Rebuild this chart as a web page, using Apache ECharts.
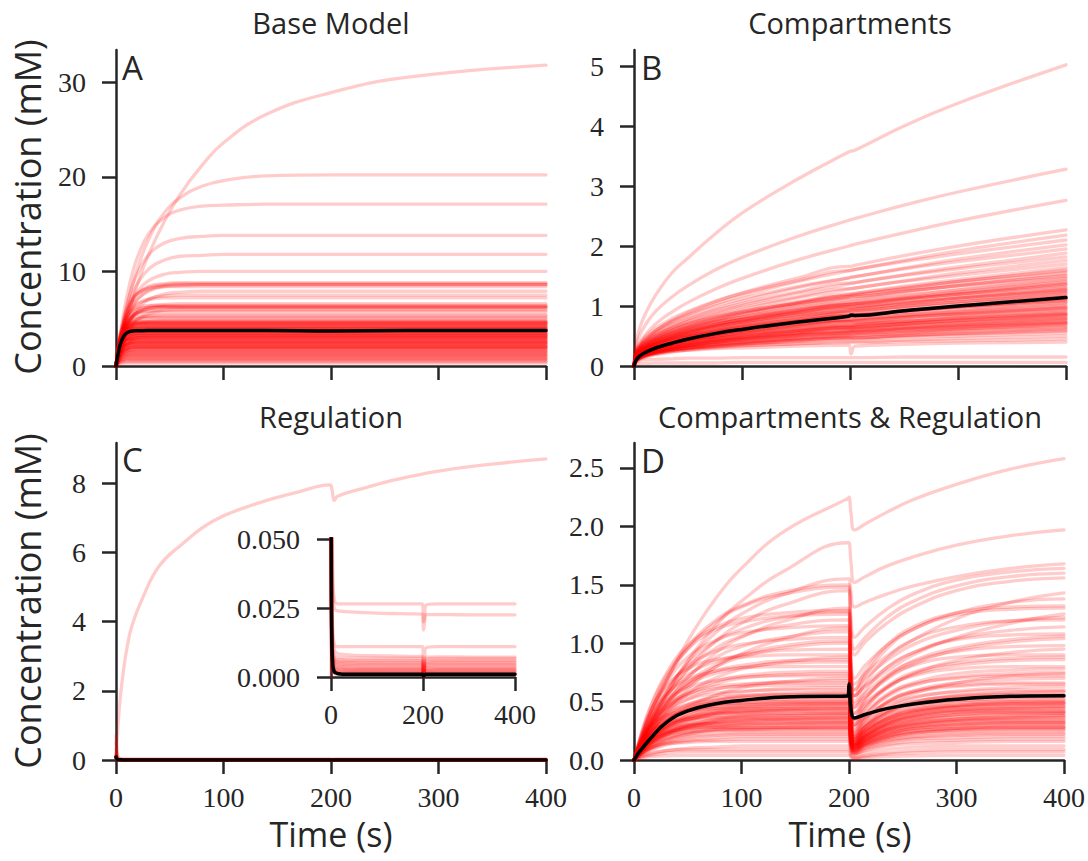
<!DOCTYPE html>
<html>
<head>
<meta charset="utf-8">
<title>Concentration time courses</title>
<script src="https://cdn.jsdelivr.net/npm/echarts@6.0.0/dist/echarts.min.js"></script>
<style>
  html, body { margin: 0; padding: 0; background: #ffffff; }
  #chart { width: 1088px; height: 861px; }
</style>
</head>
<body>
<div id="chart"></div>
<script>
// ---------- Panel A: base model (time in s, concentration in mM) ----------
const timeA = [0, 2, 4, 7, 10, 15, 20, 30, 45, 60, 80, 100, 140, 200, 270, 400];
const runsA = [
  [0,1.1,2.1,3.5,4.9,6.9,8.7,11.7,15.3,18.2,21.2,23.6,26.6,28.9,30.5,31.8],
  [0,1.4,2.7,4.5,6.1,8.4,10.3,13.3,16.2,17.8,19.0,19.6,20.1,20.2,20.2,20.2],
  [0,1.8,3.4,5.5,7.3,9.7,11.5,13.9,15.7,16.5,16.9,17.0,17.1,17.1,17.1,17.1],
  [0,1.6,3.1,4.9,6.4,8.4,9.8,11.7,13.0,13.5,13.7,13.8,13.8,13.8,13.8,13.8],
  [0,1.5,2.8,4.4,5.7,7.5,8.7,10.2,11.2,11.6,11.7,11.8,11.8,11.8,11.8,11.8],
  [0,1.4,2.7,4.2,5.4,6.9,7.9,9.0,9.7,9.9,10,10,10,10,10,10],
  [0,1.6,2.9,4.4,5.6,6.8,7.6,8.4,8.7,8.8,8.8,8.8,8.8,8.8,8.8,8.8],
  [0,1.3,2.4,3.8,4.9,6.1,7.0,7.9,8.4,8.5,8.6,8.6,8.6,8.6,8.6,8.6],
  [0,1.9,3.3,4.9,6.0,7.1,7.7,8.2,8.4,8.4,8.4,8.4,8.4,8.4,8.4,8.4],
  [0,1.1,2.0,3.1,4.0,5.2,6.0,7.0,7.6,7.8,7.9,7.9,7.9,7.9,7.9,7.9],
  [0,1.4,2.5,3.8,4.7,5.8,6.5,7.1,7.4,7.5,7.5,7.5,7.5,7.5,7.5,7.5],
  [0,1.6,2.8,4.2,5.1,6.1,6.6,7.0,7.2,7.2,7.2,7.2,7.2,7.2,7.2,7.2],
  [0,1.2,2.2,3.3,4.2,5.1,5.7,6.3,6.5,6.6,6.6,6.6,6.6,6.6,6.6,6.6],
  [0,1.8,3.1,4.4,5.2,5.9,6.2,6.4,6.4,6.4,6.4,6.4,6.4,6.4,6.4,6.4],
  [0,1.4,2.4,3.6,4.4,5.3,5.7,6.1,6.2,6.2,6.2,6.2,6.2,6.2,6.2,6.2],
  [0,0.9,1.7,2.7,3.4,4.3,4.9,5.5,5.9,6.0,6.0,6.0,6.0,6.0,6.0,6.0],
  [0,1.6,2.8,3.9,4.6,5.2,5.5,5.7,5.7,5.7,5.7,5.7,5.7,5.7,5.7,5.7],
  [0,1.2,2.1,3.1,3.9,4.6,5.0,5.3,5.4,5.4,5.4,5.4,5.4,5.4,5.4,5.4],
  [0,1.7,2.8,3.8,4.4,4.8,5.0,5.1,5.1,5.1,5.1,5.1,5.1,5.1,5.1,5.1],
  [0,1.2,2.1,3.0,3.6,4.2,4.5,4.7,4.8,4.8,4.8,4.8,4.8,4.8,4.8,4.8],
  [0,1.5,2.5,3.5,4.0,4.4,4.5,4.6,4.6,4.6,4.6,4.6,4.6,4.6,4.6,4.6],
  [0,1.2,2.1,3.0,3.6,4.0,4.2,4.4,4.4,4.4,4.4,4.4,4.4,4.4,4.4,4.4],
  [0,1.7,2.7,3.6,3.9,4.2,4.3,4.3,4.3,4.3,4.3,4.3,4.3,4.3,4.3,4.3],
  [0,1.4,2.3,3.1,3.5,3.9,4.0,4.1,4.1,4.1,4.1,4.1,4.1,4.1,4.1,4.1],
  [0,1.9,2.9,3.6,3.9,4.0,4.0,4.0,4.0,4.0,4.0,4.0,4.0,4.0,4.0,4.0],
  [0,1.1,1.9,2.7,3.2,3.6,3.8,3.9,3.9,3.9,3.9,3.9,3.9,3.9,3.9,3.9],
  [0,1.4,2.3,3.0,3.3,3.5,3.6,3.6,3.6,3.6,3.6,3.6,3.6,3.6,3.6,3.6],
  [0,1.2,1.9,2.6,3.0,3.3,3.4,3.5,3.5,3.5,3.5,3.5,3.5,3.5,3.5,3.5],
  [0,1.6,2.4,3.0,3.2,3.3,3.3,3.3,3.3,3.3,3.3,3.3,3.3,3.3,3.3,3.3],
  [0,0.9,1.5,2.1,2.5,2.8,3.0,3.1,3.1,3.1,3.1,3.1,3.1,3.1,3.1,3.1],
  [0,1.2,1.9,2.5,2.8,2.9,3.0,3.0,3.0,3.0,3.0,3.0,3.0,3.0,3.0,3.0],
  [0,1.4,2.1,2.5,2.7,2.8,2.8,2.8,2.8,2.8,2.8,2.8,2.8,2.8,2.8,2.8],
  [0,0.9,1.4,2.0,2.2,2.5,2.6,2.6,2.6,2.6,2.6,2.6,2.6,2.6,2.6,2.6],
  [0,1.2,1.8,2.2,2.3,2.4,2.4,2.4,2.4,2.4,2.4,2.4,2.4,2.4,2.4,2.4],
  [0,0.9,1.4,1.8,2.0,2.2,2.2,2.2,2.2,2.2,2.2,2.2,2.2,2.2,2.2,2.2],
  [0,1.0,1.5,1.8,1.9,2.0,2.0,2.0,2.0,2.0,2.0,2.0,2.0,2.0,2.0,2.0],
  [0,0.6,1.0,1.4,1.6,1.7,1.8,1.8,1.8,1.8,1.8,1.8,1.8,1.8,1.8,1.8],
  [0,0.7,1.1,1.4,1.5,1.5,1.5,1.5,1.5,1.5,1.5,1.5,1.5,1.5,1.5,1.5],
  [0,0.5,0.8,1.1,1.2,1.3,1.3,1.3,1.3,1.3,1.3,1.3,1.3,1.3,1.3,1.3],
  [0,0.5,0.7,0.9,1.0,1.0,1.0,1.0,1.0,1.0,1.0,1.0,1.0,1.0,1.0,1.0],
  [0,0.3,0.5,0.7,0.8,0.8,0.8,0.8,0.8,0.8,0.8,0.8,0.8,0.8,0.8,0.8],
  [0,0.3,0.4,0.5,0.55,0.55,0.55,0.55,0.55,0.55,0.55,0.55,0.55,0.55,0.55,0.55],
  [0,0.15,0.22,0.27,0.3,0.3,0.3,0.3,0.3,0.3,0.3,0.3,0.3,0.3,0.3,0.3],
  [0,1.5,2.4,3.1,3.5,3.7,3.8,3.8,3.8,3.8,3.8,3.8,3.8,3.8,3.8,3.8],
  [0,1.8,2.8,3.7,4.1,4.4,4.5,4.5,4.5,4.5,4.5,4.5,4.5,4.5,4.5,4.5],
  [0,1.3,2.0,2.6,2.9,3.1,3.2,3.2,3.2,3.2,3.2,3.2,3.2,3.2,3.2,3.2],
  [0,1.0,1.6,2.1,2.3,2.5,2.5,2.5,2.5,2.5,2.5,2.5,2.5,2.5,2.5,2.5],
  [0,1.2,2.0,2.9,3.4,3.9,4.0,4.2,4.2,4.2,4.2,4.2,4.2,4.2,4.2,4.2],
  [0,1.5,2.6,3.7,4.5,5.2,5.6,5.8,5.9,5.9,5.9,5.9,5.9,5.9,5.9,5.9],
  [0,1.3,2.3,3.5,4.3,5.2,5.7,6.1,6.3,6.3,6.3,6.3,6.3,6.3,6.3,6.3],
  [0,1.6,2.6,3.5,4.1,4.5,4.6,4.7,4.7,4.7,4.7,4.7,4.7,4.7,4.7,4.7],
  [0,1.7,2.5,3.1,3.3,3.4,3.4,3.4,3.4,3.4,3.4,3.4,3.4,3.4,3.4,3.4],
  [0,1.0,1.6,2.2,2.5,2.8,2.9,2.9,2.9,2.9,2.9,2.9,2.9,2.9,2.9,2.9],
  [0,0.8,1.3,1.7,1.9,2.1,2.1,2.1,2.1,2.1,2.1,2.1,2.1,2.1,2.1,2.1],
  [0,0.6,0.9,1.1,1.2,1.2,1.2,1.2,1.2,1.2,1.2,1.2,1.2,1.2,1.2,1.2],
  [0,0.35,0.5,0.6,0.65,0.65,0.65,0.65,0.65,0.65,0.65,0.65,0.65,0.65,0.65,0.65],
  [0,2.2,3.4,4.2,4.4,4.6,4.6,4.6,4.6,4.6,4.6,4.6,4.6,4.6,4.6,4.6],
  [0,1.7,2.8,3.6,4.0,4.3,4.4,4.4,4.4,4.4,4.4,4.4,4.4,4.4,4.4,4.4],
  [0,2.0,3.1,3.8,4.0,4.2,4.2,4.2,4.2,4.2,4.2,4.2,4.2,4.2,4.2,4.2],
  [0,1.3,2.2,3.0,3.5,3.8,3.9,4.0,4.0,4.0,4.0,4.0,4.0,4.0,4.0,4.0],
  [0,1.5,2.5,3.2,3.6,3.8,3.9,3.9,3.9,3.9,3.9,3.9,3.9,3.9,3.9,3.9],
  [0,1.8,2.7,3.3,3.6,3.7,3.7,3.7,3.7,3.7,3.7,3.7,3.7,3.7,3.7,3.7],
  [0,1.0,1.8,2.5,2.9,3.3,3.5,3.6,3.6,3.6,3.6,3.6,3.6,3.6,3.6,3.6],
  [0,1.7,2.6,3.2,3.4,3.5,3.5,3.5,3.5,3.5,3.5,3.5,3.5,3.5,3.5,3.5],
  [0,1.1,1.8,2.5,2.9,3.1,3.2,3.3,3.3,3.3,3.3,3.3,3.3,3.3,3.3,3.3],
  [0,1.6,2.4,2.9,3.1,3.2,3.2,3.2,3.2,3.2,3.2,3.2,3.2,3.2,3.2,3.2],
  [0,1.2,1.9,2.5,2.8,2.9,3.0,3.0,3.0,3.0,3.0,3.0,3.0,3.0,3.0,3.0],
  [0,1.4,2.1,2.6,2.8,2.9,2.9,2.9,2.9,2.9,2.9,2.9,2.9,2.9,2.9,2.9],
  [0,0.9,1.5,2.0,2.3,2.6,2.7,2.7,2.7,2.7,2.7,2.7,2.7,2.7,2.7,2.7],
  [0,1.3,1.9,2.3,2.5,2.6,2.6,2.6,2.6,2.6,2.6,2.6,2.6,2.6,2.6,2.6],
  [0,0.9,1.5,2.0,2.2,2.4,2.4,2.4,2.4,2.4,2.4,2.4,2.4,2.4,2.4,2.4],
  [0,1.1,1.7,2.1,2.2,2.3,2.3,2.3,2.3,2.3,2.3,2.3,2.3,2.3,2.3,2.3],
  [0,0.7,1.2,1.6,1.8,2.0,2.1,2.1,2.1,2.1,2.1,2.1,2.1,2.1,2.1,2.1],
  [0,0.8,1.3,1.7,1.8,2.0,2.0,2.0,2.0,2.0,2.0,2.0,2.0,2.0,2.0,2.0],
  [0,0.9,1.4,1.7,1.8,1.9,1.9,1.9,1.9,1.9,1.9,1.9,1.9,1.9,1.9,1.9],
  [0,0.7,1.1,1.4,1.6,1.7,1.7,1.7,1.7,1.7,1.7,1.7,1.7,1.7,1.7,1.7],
  [0,0.8,1.2,1.4,1.5,1.6,1.6,1.6,1.6,1.6,1.6,1.6,1.6,1.6,1.6,1.6],
  [0,0.6,0.9,1.2,1.3,1.4,1.4,1.4,1.4,1.4,1.4,1.4,1.4,1.4,1.4,1.4],
  [0,0.5,0.8,1.0,1.1,1.1,1.1,1.1,1.1,1.1,1.1,1.1,1.1,1.1,1.1,1.1],
  [0,0.35,0.6,0.75,0.85,0.9,0.9,0.9,0.9,0.9,0.9,0.9,0.9,0.9,0.9,0.9],
  [0,0.2,0.33,0.4,0.44,0.45,0.45,0.45,0.45,0.45,0.45,0.45,0.45,0.45,0.45,0.45],
  [0,1.4,2.4,3.4,4.1,4.6,4.8,5.0,5.0,5.0,5.0,5.0,5.0,5.0,5.0,5.0],
  [0,1.7,2.9,4.0,4.6,5.0,5.2,5.3,5.3,5.3,5.3,5.3,5.3,5.3,5.3,5.3],
  [0,1.6,2.7,4.0,4.8,5.6,6.0,6.2,6.3,6.3,6.3,6.3,6.3,6.3,6.3,6.3],
  [0,1.3,2.2,3.4,4.2,5.1,5.6,6.0,6.2,6.2,6.2,6.2,6.2,6.2,6.2,6.2],
  [0,1.4,2.6,4.0,5.1,6.3,7.1,8.0,8.5,8.6,8.6,8.6,8.6,8.6,8.6,8.6],
  [0,1.7,3.1,4.5,5.6,6.8,7.6,8.3,8.6,8.7,8.7,8.7,8.7,8.7,8.7,8.7],
  [0,2.0,3.0,3.7,4.0,4.1,4.1,4.1,4.1,4.1,4.1,4.1,4.1,4.1,4.1,4.1],
  [0,1.4,2.4,3.3,3.8,4.2,4.4,4.5,4.5,4.5,4.5,4.5,4.5,4.5,4.5,4.5],
  [0,1.8,2.8,3.5,3.8,3.9,3.9,3.9,3.9,3.9,3.9,3.9,3.9,3.9,3.9,3.9],
  [0,1.3,2.1,2.9,3.3,3.6,3.7,3.7,3.7,3.7,3.7,3.7,3.7,3.7,3.7,3.7],
  [0,1.5,2.3,2.9,3.2,3.4,3.4,3.4,3.4,3.4,3.4,3.4,3.4,3.4,3.4,3.4],
  [0,1.0,1.7,2.4,2.8,3.1,3.2,3.2,3.2,3.2,3.2,3.2,3.2,3.2,3.2,3.2],
  [0,1.3,2.0,2.6,2.8,3.0,3.0,3.0,3.0,3.0,3.0,3.0,3.0,3.0,3.0,3.0],
  [0,1.2,1.9,2.4,2.6,2.7,2.7,2.7,2.7,2.7,2.7,2.7,2.7,2.7,2.7,2.7],
  [0,0.9,1.5,2.0,2.3,2.5,2.5,2.5,2.5,2.5,2.5,2.5,2.5,2.5,2.5,2.5],
  [0,1.0,1.6,2.0,2.2,2.3,2.3,2.3,2.3,2.3,2.3,2.3,2.3,2.3,2.3,2.3],
  [0,0.8,1.3,1.7,1.9,2.0,2.0,2.0,2.0,2.0,2.0,2.0,2.0,2.0,2.0,2.0],
  [0,0.8,1.2,1.5,1.7,1.8,1.8,1.8,1.8,1.8,1.8,1.8,1.8,1.8,1.8,1.8],
  [0,0.7,1.0,1.3,1.4,1.5,1.5,1.5,1.5,1.5,1.5,1.5,1.5,1.5,1.5,1.5],
  [0,0.5,0.8,1.0,1.1,1.15,1.15,1.15,1.15,1.15,1.15,1.15,1.15,1.15,1.15,1.15],
  [0,0.4,0.6,0.7,0.75,0.75,0.75,0.75,0.75,0.75,0.75,0.75,0.75,0.75,0.75,0.75],
  [0,1.9,3.0,3.9,4.3,4.6,4.7,4.7,4.7,4.7,4.7,4.7,4.7,4.7,4.7,4.7]
];
const meanA = [0,1.3,2.3,3.1,3.5,3.7,3.72,3.75,3.75,3.75,3.75,3.75,3.75,3.7,3.75,3.75];

// ---------- Panel B: compartments ----------
const timeB = [0, 2, 5, 10, 20, 35, 50, 75, 100, 150, 199, 201, 205, 250, 300, 400];
const runsB = [
  [0,0.4,0.62,0.85,1.18,1.55,1.8,2.2,2.55,3.1,3.57,3.58,3.6,4.0,4.38,5.02],
  [0,.33,.5,.67,.91,1.15,1.34,1.6,1.81,2.15,2.43,2.44,2.46,2.68,2.9,3.28],
  [0,.24,.37,.51,.7,.9,1.06,1.28,1.46,1.76,2.0,2.01,2.03,2.22,2.42,2.76],
  [0,.21,.32,.43,.59,.76,.89,1.07,1.22,1.46,1.66,1.66,1.68,1.84,2.0,2.27],
  [0,.2,.3,.41,.57,.73,.85,1.03,1.17,1.4,1.59,1.6,1.61,1.76,1.92,2.18],
  [0,.25,.36,.48,.63,.79,.91,1.08,1.21,1.42,1.59,1.59,1.61,1.74,1.87,2.1],
  [0,.19,.28,.38,.53,.67,.79,.95,1.08,1.3,1.47,1.48,1.49,1.63,1.78,2.02],
  [0,.23,.34,.45,.59,.74,.85,1.0,1.12,1.32,1.47,1.48,1.49,1.62,1.74,1.95],
  [0,.17,.26,.36,.49,.63,.74,.89,1.01,1.21,1.37,1.38,1.39,1.52,1.65,1.88],
  [0,.22,.31,.42,.55,.69,.79,.93,1.04,1.23,1.38,1.38,1.39,1.51,1.62,1.82],
  [0,.16,.24,.33,.46,.59,.69,.83,.94,1.13,1.28,1.29,1.3,1.42,1.55,1.76],
  [0,.2,.29,.39,.51,.64,.74,.87,.98,1.15,1.29,1.29,1.3,1.41,1.51,1.7],
  [0,.15,.23,.31,.43,.55,.64,.77,.88,1.05,1.2,1.2,1.21,1.33,1.44,1.64],
  [0,.19,.27,.36,.48,.6,.69,.81,.91,1.07,1.19,1.2,1.21,1.31,1.41,1.58],
  [0,.14,.21,.29,.4,.51,.6,.72,.81,.98,1.11,1.11,1.12,1.23,1.34,1.52],
  [0,.23,.32,.4,.51,.63,.71,.82,.91,1.04,1.15,1.16,1.16,1.25,1.33,1.47],
  [0,.17,.25,.33,.43,.54,.62,.73,.82,.96,1.07,1.08,1.09,1.18,1.27,1.42],
  [0,.13,.19,.26,.36,.46,.54,.65,.73,.88,1.0,1.0,1.01,1.11,1.2,1.37],
  [0,.21,.29,.36,.46,.56,.64,.74,.81,.94,1.03,1.04,1.04,1.12,1.19,1.32],
  [0,.15,.22,.29,.38,.48,.55,.65,.73,.86,.96,.96,.97,1.05,1.13,1.27],
  [0,.11,.17,.23,.32,.41,.48,.57,.65,.78,.89,.89,.9,.99,1.07,1.22],
  [0,.19,.25,.32,.41,.5,.57,.66,.73,.84,.92,.93,.93,1.0,1.07,1.18],
  [0,.13,.19,.25,.33,.41,.48,.56,.63,.74,.83,.83,.84,.91,.98,1.1],
  [0,.1,.15,.2,.27,.35,.41,.49,.56,.68,.77,.77,.78,.85,.92,1.05],
  [0,.16,.22,.28,.35,.43,.48,.56,.62,.71,.78,.79,.79,.85,.9,1.0],
  [0,.12,.17,.22,.29,.36,.42,.49,.55,.65,.73,.73,.73,.8,.86,.96],
  [0,.08,.13,.17,.24,.31,.36,.43,.49,.59,.67,.67,.68,.74,.81,.92],
  [0,.14,.19,.24,.31,.37,.43,.49,.54,.62,.69,.69,.7,.75,.8,.88],
  [0,.1,.15,.19,.25,.32,.37,.43,.48,.57,.64,.64,.64,.7,.75,.84],
  [0,.13,.17,.22,.28,.34,.39,.45,.49,.57,.63,.63,.63,.68,.72,.8],
  [0,.09,.13,.17,.23,.29,.33,.39,.44,.51,.57,.58,.58,.63,.68,.76],
  [0,.11,.16,.2,.25,.31,.35,.4,.44,.51,.56,.57,.57,.61,.65,.72],
  [0,.08,.12,.16,.21,.26,.3,.35,.39,.46,.51,.52,.52,.56,.61,.68],
  [0,.1,.14,.18,.22,.27,.31,.36,.39,.45,.5,.5,.51,.54,.58,.64],
  [0,.09,.13,.17,.21,.26,.29,.33,.37,.43,.47,.47,.47,.51,.54,.6],
  [0,.11,.15,.18,.22,.27,.29,.33,.36,.41,.45,.45,.45,.48,.5,.55],
  [0,.1,.13,.17,.2,.24,.27,.3,.33,.37,.41,.41,.41,.43,.46,.5],
  [0,.16,.19,.22,.25,.28,.3,.32,.34,.37,.39,.39,.39,.41,.42,.45],
  [0,.14,.17,.19,.22,.25,.26,.29,.3,.33,.35,.2,.33,.36,.38,.4],
  [0,.07,.09,.1,.11,.12,.13,.13,.14,.14,.14,.14,.14,.15,.15,.15],
  [0,.03,.04,.04,.05,.05,.05,.05,.06,.06,.06,.06,.06,.06,.06,.06],
  [0,.15,.22,.3,.42,.53,.63,.75,.86,1.03,1.17,1.17,1.18,1.29,1.41,1.6],
  [0,.16,.23,.31,.41,.51,.59,.69,.77,.91,1.02,1.02,1.03,1.12,1.2,1.35],
  [0,.11,.16,.22,.3,.38,.45,.54,.62,.74,.84,.84,.85,.93,1.01,1.15],
  [0,.12,.17,.22,.3,.37,.43,.5,.56,.66,.74,.74,.75,.81,.87,.98],
  [0,.08,.12,.16,.22,.29,.34,.41,.46,.55,.63,.63,.64,.7,.76,.86],
  [0,.08,.12,.16,.21,.26,.3,.36,.4,.47,.53,.53,.54,.58,.62,.7],
  [0,.12,.18,.24,.33,.43,.5,.6,.69,.82,.93,.94,.95,1.04,1.13,1.28],
  [0,.17,.23,.3,.38,.46,.52,.6,.67,.77,.85,.85,.85,.92,.98,1.08],
  [0,.19,.27,.35,.47,.58,.67,.79,.89,1.05,1.17,1.18,1.19,1.28,1.38,1.55],
  [0,.13,.2,.28,.38,.48,.57,.68,.78,.93,1.06,1.06,1.07,1.17,1.27,1.45],
  [0,.16,.22,.3,.39,.49,.57,.67,.75,.88,.98,.99,.99,1.08,1.16,1.3],
  [0,.2,.27,.34,.44,.53,.6,.7,.77,.89,.98,.98,.99,1.06,1.13,1.25],
  [0,.14,.21,.27,.36,.45,.52,.61,.69,.81,.91,.91,.92,.99,1.07,1.2],
  [0,.1,.16,.21,.29,.37,.44,.53,.6,.72,.82,.82,.83,.91,.98,1.12],
  [0,.17,.23,.29,.37,.45,.51,.59,.65,.75,.83,.83,.84,.9,.96,1.06],
  [0,.12,.18,.23,.31,.38,.44,.52,.59,.69,.77,.77,.78,.85,.91,1.02],
  [0,.15,.2,.26,.33,.4,.45,.52,.58,.67,.74,.74,.74,.8,.85,.94],
  [0,.11,.16,.21,.27,.34,.39,.46,.52,.61,.68,.68,.69,.75,.8,.9],
  [0,.13,.18,.23,.29,.35,.4,.46,.51,.58,.64,.64,.65,.7,.74,.82],
  [0,.09,.13,.18,.24,.29,.34,.4,.45,.53,.59,.59,.6,.65,.69,.78],
  [0,.12,.16,.2,.26,.32,.36,.41,.46,.52,.58,.58,.59,.63,.67,.74],
  [0,.1,.14,.18,.23,.28,.32,.37,.41,.47,.52,.52,.52,.56,.6,.66],
  [0,.07,.11,.14,.19,.23,.27,.32,.36,.42,.47,.47,.47,.51,.55,.62],
  [0,.12,.16,.19,.24,.28,.31,.35,.38,.43,.47,.47,.47,.5,.53,.58],
  [0,.13,.19,.27,.36,.47,.55,.66,.75,.9,1.02,1.03,1.04,1.13,1.23,1.4],
  [0,.18,.26,.34,.45,.57,.65,.77,.86,1.01,1.13,1.14,1.15,1.24,1.34,1.5],
  [0,.14,.19,.24,.3,.37,.42,.48,.54,.62,.68,.68,.69,.74,.79,.87],
  [0,.14,.2,.27,.35,.44,.5,.59,.67,.78,.88,.88,.89,.96,1.03,1.16],
  [0,.13,.18,.24,.31,.38,.44,.52,.58,.67,.75,.75,.76,.82,.87,.97],
  [0,.11,.15,.2,.26,.31,.35,.41,.45,.52,.57,.57,.57,.62,.66,.73],
  [0,.14,.2,.26,.34,.42,.49,.57,.64,.75,.84,.84,.85,.92,.99,1.11],
  [0,.12,.17,.22,.28,.35,.4,.46,.51,.59,.65,.65,.66,.71,.76,.85],
  [0,.1,.14,.18,.24,.3,.34,.39,.43,.5,.55,.55,.56,.6,.64,.71],
  [0,.15,.21,.28,.37,.46,.53,.63,.71,.84,.94,.94,.95,1.03,1.11,1.24],
  [0,.12,.16,.21,.27,.33,.37,.43,.48,.55,.61,.61,.62,.66,.71,.79],
  [0,.16,.23,.3,.4,.5,.58,.69,.78,.92,1.03,1.03,1.04,1.13,1.22,1.37]
];
const meanB = [0,.1,.16,.22,.3,.38,.45,.54,.61,.73,.83,.85,.84,.92,1.0,1.14];

// ---------- Panel C: regulation (main axes and inset share the runs) ----------
const timeC = [0, 1, 2, 4, 7, 10, 15, 25, 40, 60, 90, 130, 170, 199, 201, 203, 206, 230, 260, 300, 350, 400];
const runsC = [
  [0,0.6,1.07,1.8,2.6,3.2,3.9,4.7,5.6,6.2,6.9,7.4,7.75,7.95,7.8,7.5,7.62,7.85,8.1,8.35,8.55,8.7],
  [0.7,0.25,0.09,0.035,0.028,0.027,0.0265,0.0265,0.0265,0.0265,0.0265,0.0265,0.0265,0.0265,0.017,0.019,0.026,0.0265,0.0265,0.0265,0.0265,0.0265],
  [0.5,0.18,0.07,0.03,0.025,0.0242,0.024,0.0238,0.0236,0.0234,0.0232,0.023,0.0229,0.0228,0.02,0.021,0.0226,0.0226,0.0226,0.0225,0.0225,0.0225],
  [0.3,0.1,0.04,0.016,0.012,0.0112,0.011,0.011,0.011,0.011,0.011,0.011,0.011,0.011,0.004,0.007,0.0105,0.011,0.011,0.011,0.011,0.011],
  [0.2,0.07,0.03,0.013,0.01,0.009,0.0085,0.0082,0.008,0.0078,0.0077,0.0076,0.0075,0.0075,0.002,0.005,0.0072,0.0073,0.0073,0.0072,0.0072,0.0072],
  [0.15,0.05,0.02,0.01,0.008,0.0075,0.0072,0.007,0.0069,0.0068,0.0068,0.0068,0.0068,0.0068,0.002,0.004,0.0065,0.0067,0.0067,0.0067,0.0067,0.0067],
  [0.12,0.04,0.018,0.009,0.007,0.0065,0.0063,0.0062,0.0061,0.006,0.006,0.006,0.006,0.006,0.001,0.004,0.0058,0.006,0.006,0.006,0.006,0.006],
  [0.1,0.035,0.015,0.008,0.0065,0.006,0.0058,0.0057,0.0056,0.0055,0.0055,0.0055,0.0055,0.0055,0.001,0.003,0.0052,0.0055,0.0055,0.0055,0.0055,0.0055],
  [0.09,0.03,0.013,0.0075,0.006,0.0055,0.0053,0.0052,0.0051,0.005,0.005,0.005,0.005,0.005,0.001,0.003,0.0048,0.005,0.005,0.005,0.005,0.005],
  [0.085,0.028,0.012,0.007,0.0055,0.005,0.0048,0.0047,0.0046,0.0045,0.0045,0.0045,0.0045,0.0045,0.001,0.0025,0.0043,0.0045,0.0045,0.0045,0.0045,0.0045],
  [0.08,0.026,0.011,0.0065,0.005,0.0045,0.0043,0.0042,0.0041,0.004,0.004,0.004,0.004,0.004,0.0008,0.002,0.0038,0.004,0.004,0.004,0.004,0.004],
  [0.075,0.024,0.01,0.006,0.0045,0.004,0.0038,0.0037,0.0036,0.0035,0.0035,0.0035,0.0035,0.0035,0.0007,0.002,0.0033,0.0035,0.0035,0.0035,0.0035,0.0035],
  [0.07,0.022,0.009,0.005,0.004,0.0035,0.0033,0.0032,0.0031,0.003,0.003,0.003,0.003,0.003,0.0006,0.0018,0.0028,0.003,0.003,0.003,0.003,0.003],
  [0.068,0.02,0.008,0.0045,0.0035,0.0031,0.0029,0.0028,0.0027,0.0027,0.0027,0.0027,0.0027,0.0027,0.0005,0.0015,0.0025,0.0027,0.0027,0.0027,0.0027,0.0027],
  [0.065,0.019,0.0075,0.004,0.0032,0.0028,0.0026,0.0025,0.0024,0.0024,0.0024,0.0024,0.0024,0.0024,0.0005,0.0014,0.0022,0.0024,0.0024,0.0024,0.0024,0.0024],
  [0.062,0.018,0.007,0.0035,0.0027,0.0023,0.0021,0.002,0.002,0.002,0.002,0.002,0.002,0.002,0.0004,0.0012,0.0019,0.002,0.002,0.002,0.002,0.002],
  [0.06,0.017,0.0065,0.003,0.0023,0.002,0.0018,0.0017,0.0017,0.0017,0.0017,0.0017,0.0017,0.0017,0.0004,0.001,0.0016,0.0017,0.0017,0.0017,0.0017,0.0017],
  [0.058,0.016,0.006,0.0027,0.002,0.0017,0.0015,0.0014,0.0014,0.0014,0.0014,0.0014,0.0014,0.0014,0.0003,0.0009,0.0013,0.0014,0.0014,0.0014,0.0014,0.0014],
  [0.056,0.015,0.0055,0.0024,0.0017,0.0014,0.0013,0.0012,0.0012,0.0012,0.0012,0.0012,0.0012,0.0012,0.0003,0.0008,0.0011,0.0012,0.0012,0.0012,0.0012,0.0012],
  [0.055,0.014,0.005,0.002,0.0014,0.0011,0.001,0.0009,0.0009,0.0009,0.0009,0.0009,0.0009,0.0009,0.0002,0.0006,0.0009,0.0009,0.0009,0.0009,0.0009,0.0009]
];
const meanC = [0.09,0.03,0.012,0.004,0.002,0.0015,0.0012,0.001,0.001,0.001,0.001,0.001,0.001,0.001,0.0004,0.0007,0.001,0.001,0.001,0.001,0.001,0.001];

// ---------- Panel D: compartments & regulation ----------
const timeD = [0, 5, 15, 30, 50, 75, 100, 140, 199, 200, 202, 205, 215, 235, 260, 300, 350, 400];
const runsD = [
  [0,.13,.36,.67,1.02,1.37,1.64,1.96,2.24,2.25,2.1,1.97,2.02,2.12,2.23,2.36,2.49,2.58],
  [0,.11,.3,.56,.85,1.14,1.36,1.62,1.86,1.86,1.68,1.52,1.57,1.66,1.74,1.84,1.92,1.97],
  [0,.11,.32,.57,.84,1.08,1.25,1.42,1.55,1.55,1.42,1.31,1.35,1.42,1.49,1.57,1.64,1.68],
  [0,.15,.4,.69,.97,1.19,1.32,1.44,1.5,1.5,1.2,1.05,1.14,1.29,1.42,1.54,1.61,1.64],
  [0,.14,.39,.68,.95,1.17,1.31,1.42,1.48,1.48,1.1,.95,1.05,1.22,1.36,1.49,1.57,1.6],
  [0,.11,.3,.54,.78,1.01,1.17,1.33,1.45,1.45,1.05,.9,1.01,1.17,1.31,1.45,1.53,1.56],
  [0,.17,.45,.74,.98,1.13,1.21,1.26,1.28,1.28,.75,.6,.76,.98,1.14,1.26,1.31,1.32],
  [0,.12,.34,.58,.82,1.01,1.12,1.22,1.27,1.27,.85,.7,.81,.98,1.12,1.26,1.35,1.38],
  [0,.17,.44,.72,.95,1.11,1.18,1.23,1.25,1.25,.7,.55,.72,.95,1.12,1.24,1.29,1.3],
  [0,.12,.32,.55,.77,.95,1.06,1.15,1.2,1.2,.75,.6,.7,.85,.99,1.11,1.19,1.22],
  [0,.15,.4,.66,.88,1.02,1.09,1.13,1.15,1.15,.65,.5,.66,.87,1.03,1.14,1.19,1.2],
  [0,.11,.29,.51,.71,.87,.97,1.05,1.1,1.1,.7,.55,.64,.79,.92,1.04,1.11,1.14],
  [0,.14,.37,.61,.8,.93,.99,1.03,1.05,1.05,.6,.45,.59,.79,.92,1.03,1.07,1.08],
  [0,.1,.26,.46,.64,.79,.88,.96,1.0,1.0,.6,.45,.54,.69,.82,.94,1.01,1.04],
  [0,.13,.33,.55,.73,.84,.9,.94,.95,.95,.55,.4,.53,.71,.84,.93,.97,.98],
  [0,.16,.41,.63,.78,.86,.88,.9,.9,.9,.5,.35,.51,.7,.81,.88,.9,.9],
  [0,.11,.3,.5,.66,.76,.81,.85,.86,.86,.5,.35,.47,.63,.75,.83,.87,.88],
  [0,.14,.36,.56,.69,.76,.79,.8,.8,.8,.45,.3,.44,.62,.72,.78,.8,.8],
  [0,.1,.27,.44,.58,.67,.72,.75,.76,.76,.43,.3,.41,.56,.66,.74,.77,.78],
  [0,.13,.32,.5,.62,.68,.71,.72,.72,.72,.38,.25,.38,.55,.65,.7,.72,.72],
  [0,.09,.24,.39,.52,.6,.64,.67,.68,.68,.37,.25,.35,.49,.59,.66,.69,.7],
  [0,.12,.29,.45,.55,.61,.63,.64,.64,.64,.33,.22,.34,.49,.58,.63,.65,.65],
  [0,.11,.27,.42,.52,.57,.59,.6,.6,.6,.31,.2,.31,.45,.54,.58,.6,.6],
  [0,.08,.2,.33,.43,.5,.54,.56,.57,.57,.3,.2,.28,.4,.49,.55,.57,.58],
  [0,.09,.23,.36,.45,.49,.51,.52,.52,.52,.27,.18,.28,.4,.47,.51,.52,.52],
  [0,.09,.23,.35,.43,.48,.49,.5,.5,.5,.25,.15,.25,.37,.44,.49,.5,.5],
  [0,.06,.17,.28,.37,.42,.45,.47,.48,.48,.26,.17,.24,.34,.41,.46,.48,.49],
  [0,.08,.21,.32,.4,.44,.45,.46,.46,.46,.23,.14,.23,.34,.41,.45,.46,.46],
  [0,.12,.28,.38,.42,.44,.44,.44,.44,.44,.21,.12,.21,.32,.39,.43,.44,.44],
  [0,.08,.19,.29,.36,.4,.41,.42,.42,.42,.21,.13,.21,.31,.37,.41,.42,.42],
  [0,.05,.14,.23,.3,.35,.38,.39,.4,.4,.21,.14,.2,.28,.34,.39,.41,.41],
  [0,.07,.17,.27,.33,.36,.37,.38,.38,.38,.19,.12,.19,.28,.34,.37,.38,.38],
  [0,.1,.23,.31,.35,.36,.36,.36,.36,.36,.17,.1,.17,.26,.32,.35,.36,.36],
  [0,.06,.15,.24,.29,.32,.33,.34,.34,.34,.17,.11,.18,.26,.3,.33,.34,.34],
  [0,.04,.11,.18,.24,.28,.3,.31,.32,.32,.16,.1,.15,.22,.27,.3,.32,.32],
  [0,.05,.14,.21,.26,.29,.29,.3,.3,.3,.15,.1,.16,.23,.27,.29,.3,.3],
  [0,.08,.18,.24,.27,.28,.28,.28,.28,.28,.13,.08,.14,.21,.25,.27,.28,.28],
  [0,.05,.12,.18,.22,.25,.26,.26,.26,.26,.13,.08,.13,.19,.23,.25,.26,.26],
  [0,.04,.1,.16,.2,.22,.23,.23,.23,.23,.11,.07,.12,.17,.2,.22,.23,.23],
  [0,.04,.09,.14,.17,.19,.2,.2,.2,.2,.1,.06,.1,.15,.18,.19,.2,.2],
  [0,.05,.1,.14,.15,.16,.16,.16,.16,.16,.08,.05,.08,.12,.14,.15,.16,.16],
  [0,.02,.05,.08,.1,.11,.12,.12,.12,.12,.06,.04,.06,.09,.11,.12,.12,.12],
  [0,.02,.04,.06,.07,.07,.07,.07,.07,.07,.03,.02,.03,.05,.06,.07,.07,.07],
  [0,.01,.03,.035,.04,.04,.04,.04,.04,.04,.02,.01,.02,.03,.035,.04,.04,.04],
  [0,.09,.23,.4,.57,.7,.78,.84,.88,.88,.52,.4,.49,.62,.74,.85,.92,.95],
  [0,.07,.18,.32,.45,.55,.62,.67,.7,.7,.4,.3,.37,.48,.57,.66,.72,.74],
  [0,.08,.23,.42,.61,.79,.91,1.04,1.13,1.13,.7,.55,.63,.76,.9,1.05,1.17,1.25],
  [0,.1,.27,.48,.7,.91,1.05,1.19,1.3,1.3,.85,.65,.74,.89,1.03,1.21,1.35,1.43],
  [0,.06,.16,.27,.36,.41,.44,.46,.47,.47,.25,.16,.23,.33,.4,.45,.47,.48],
  [0,.08,.19,.3,.37,.41,.42,.43,.43,.43,.22,.13,.21,.31,.38,.42,.43,.43],
  [0,.05,.14,.22,.3,.34,.37,.38,.39,.39,.21,.13,.19,.27,.33,.37,.39,.4],
  [0,.06,.16,.24,.3,.33,.34,.35,.35,.35,.18,.11,.17,.25,.31,.34,.35,.35],
  [0,.09,.22,.34,.42,.47,.48,.49,.49,.49,.26,.16,.25,.36,.43,.47,.49,.49],
  [0,.06,.16,.26,.34,.4,.42,.44,.45,.45,.24,.15,.22,.31,.38,.43,.45,.46],
  [0,.07,.18,.29,.35,.39,.4,.41,.41,.41,.21,.13,.2,.3,.36,.4,.41,.41],
  [0,.05,.13,.21,.28,.33,.35,.36,.37,.37,.19,.12,.18,.26,.31,.35,.37,.38],
  [0,.06,.15,.23,.29,.31,.32,.33,.33,.33,.17,.1,.17,.24,.29,.32,.33,.33],
  [0,.09,.2,.27,.3,.31,.31,.31,.31,.31,.15,.09,.15,.22,.27,.3,.31,.31],
  [0,.04,.1,.17,.22,.26,.27,.28,.29,.29,.15,.09,.14,.2,.24,.27,.29,.29],
  [0,.05,.12,.19,.23,.26,.26,.27,.27,.27,.14,.08,.13,.19,.23,.26,.27,.27],
  [0,.07,.18,.3,.4,.47,.5,.52,.53,.53,.28,.18,.26,.37,.45,.5,.53,.54],
  [0,.1,.25,.39,.48,.53,.55,.56,.56,.56,.3,.19,.29,.42,.5,.54,.56,.56],
  [0,.08,.22,.36,.47,.55,.58,.61,.62,.62,.33,.22,.31,.44,.53,.59,.62,.63],
  [0,.12,.3,.46,.57,.63,.65,.66,.66,.66,.35,.23,.35,.5,.59,.64,.66,.66],
  [0,.1,.26,.43,.56,.65,.7,.73,.74,.74,.4,.28,.39,.54,.64,.71,.74,.75],
  [0,.11,.29,.48,.64,.74,.79,.83,.84,.84,.46,.33,.45,.61,.73,.81,.85,.86],
  [0,.1,.26,.47,.66,.81,.9,.98,1.02,1.02,.6,.48,.57,.72,.85,.96,1.03,1.06],
  [0,.07,.16,.22,.24,.25,.25,.25,.25,.25,.12,.07,.12,.18,.22,.24,.25,.25],
  [0,.03,.08,.13,.16,.17,.18,.18,.18,.18,.09,.05,.09,.13,.16,.17,.18,.18],
  [0,.03,.06,.08,.09,.09,.09,.09,.09,.09,.04,.02,.04,.06,.08,.09,.09,.09],
  [0,.09,.22,.34,.42,.46,.47,.48,.48,.48,.25,.16,.25,.35,.42,.46,.48,.48],
  [0,.06,.15,.25,.33,.39,.41,.43,.44,.44,.23,.14,.21,.3,.37,.42,.44,.45],
  [0,.07,.18,.28,.35,.38,.39,.4,.4,.4,.21,.13,.2,.29,.35,.39,.4,.4],
  [0,.05,.13,.21,.27,.32,.34,.35,.36,.36,.19,.12,.17,.25,.3,.34,.36,.37],
  [0,.06,.14,.22,.28,.3,.31,.32,.32,.32,.17,.1,.16,.23,.28,.31,.32,.32],
  [0,.07,.17,.29,.38,.44,.47,.49,.5,.5,.26,.17,.25,.35,.42,.47,.5,.51],
  [0,.1,.24,.38,.47,.51,.53,.54,.54,.54,.28,.18,.28,.4,.48,.52,.54,.54],
  [0,.08,.2,.33,.44,.51,.55,.57,.58,.58,.3,.2,.29,.41,.5,.55,.58,.59],
  [0,.08,.18,.24,.27,.28,.28,.28,.28,.28,.14,.08,.14,.2,.25,.27,.28,.28],
  [0,.04,.1,.15,.19,.21,.22,.22,.22,.22,.11,.06,.11,.16,.19,.21,.22,.22]
];
const meanD = [0,.07,.18,.32,.42,.48,.51,.54,.55,.65,.42,.36,.39,.44,.48,.52,.545,.55];

// ---------- tick positions ----------
const timeTicks = [0, 100, 200, 300, 400];
const insetTimeTicks = [0, 200, 400];
const ticksA = [0, 10, 20, 30];
const ticksB = [0, 1, 2, 3, 4, 5];
const ticksC = [0, 2, 4, 6, 8];
const ticksD = [0, 0.5, 1, 1.5, 2, 2.5];
const ticksInset = [0, 0.025, 0.05];

// ---------- styling ----------
const INK = '#262626';
const RUN_COLOR = 'rgba(255,0,0,0.2)';
const SANS = '"Open Sans", "DejaVu Sans", sans-serif';
const SERIF = '"Liberation Serif", "DejaVu Serif", serif';
const TICK_FONT = 28;

const axisLineStyle = { color: INK, width: 2.5 };

function timeAxis(grid, ticks, showLabels) {
  return {
    type: 'value', gridIndex: grid, min: 0, max: 400, interval: 100,
    splitLine: { show: false },
    axisLine: { show: true, onZero: false, lineStyle: axisLineStyle },
    axisTick: { show: true, length: 14, customValues: ticks, lineStyle: axisLineStyle },
    axisLabel: { show: showLabels, customValues: ticks, margin: 23, lineHeight: 28,
                 fontFamily: SERIF, fontSize: TICK_FONT, color: INK }
  };
}
function concAxis(grid, max, ticks, digits, margin) {
  return {
    type: 'value', gridIndex: grid, min: 0, max: max,
    splitLine: { show: false },
    axisLine: { show: true, onZero: false, lineStyle: axisLineStyle },
    axisTick: { show: true, length: 14, customValues: ticks, lineStyle: axisLineStyle },
    axisLabel: { show: true, customValues: ticks, margin: margin, lineHeight: 28,
                 formatter: v => v.toFixed(digits),
                 fontFamily: SERIF, fontSize: TICK_FONT, color: INK }
  };
}

function runSeries(time, rows, axis, color, width, z) {
  return rows.map(row => ({
    type: 'line', xAxisIndex: axis, yAxisIndex: axis,
    data: row.map((v, i) => [time[i], v]),
    symbol: 'none', smooth: 0.45,
    silent: true, animation: false, z: z,
    lineStyle: { color: color, width: width, cap: 'round', join: 'round' },
    emphasis: { disabled: true }
  }));
}

const series = [].concat(
  runSeries(timeA, runsA, 0, RUN_COLOR, 3.3, 2),
  runSeries(timeA, [meanA], 0, '#000000', 3.5, 3),
  runSeries(timeB, runsB, 1, RUN_COLOR, 3.3, 2),
  runSeries(timeB, [meanB], 1, '#000000', 3.5, 3),
  runSeries(timeC, runsC, 2, RUN_COLOR, 3.3, 2),
  runSeries(timeC, [meanC], 2, '#000000', 3.5, 3),
  runSeries(timeD, runsD, 3, RUN_COLOR, 3.3, 2),
  runSeries(timeD, [meanD], 3, '#000000', 3.5, 3),
  runSeries(timeC, runsC, 4, RUN_COLOR, 3.3, 2),
  runSeries(timeC, [meanC], 4, '#000000', 3.5, 3)
);

function label(text, x, y, size, extra) {
  return Object.assign({
    type: 'text', x: x, y: y, silent: true,
    style: { text: text, fontFamily: SANS, fontSize: size, lineHeight: Math.round(size * 1.05),
             fill: INK, align: 'center', verticalAlign: 'middle' }
  }, extra || {});
}
function panelLetter(text, x, y) {
  return {
    type: 'text', x: x, y: y, silent: true,
    style: { text: text, fontFamily: SANS, fontSize: 33, lineHeight: 35, fill: INK,
             align: 'left', verticalAlign: 'middle' }
  };
}

const option = {
  backgroundColor: '#ffffff',
  animation: false,
  grid: [
    { left: 116, top: 50, width: 430, height: 316 },
    { left: 634, top: 50, width: 432, height: 316 },
    { left: 116, top: 443, width: 430, height: 317 },
    { left: 634, top: 443, width: 432, height: 317 },
    { left: 331, top: 539, width: 184, height: 138 }
  ],
  xAxis: [
    timeAxis(0, timeTicks, false),
    timeAxis(1, timeTicks, false),
    timeAxis(2, timeTicks, true),
    timeAxis(3, timeTicks, true),
    timeAxis(4, insetTimeTicks, true)
  ],
  yAxis: [
    concAxis(0, 33.4, ticksA, 0, 30),
    concAxis(1, 5.267, ticksB, 0, 30),
    concAxis(2, 9.16, ticksC, 0, 30),
    concAxis(3, 2.714, ticksD, 1, 30),
    concAxis(4, 0.05, ticksInset, 3, 31)
  ],
  series: series,
  graphic: [
    label('Base Model', 331, 22, 29),
    label('Compartments', 850, 22, 29),
    label('Regulation', 331, 416, 29),
    label('Compartments & Regulation', 850, 416, 29),
    label('Concentration (mM)', 27, 207, 36, { rotation: Math.PI / 2 }),
    label('Concentration (mM)', 27, 601, 36, { rotation: Math.PI / 2 }),
    label('Time (s)', 331, 834, 34),
    label('Time (s)', 850, 834, 34),
    panelLetter('A', 122, 67),
    panelLetter('B', 641, 67),
    panelLetter('C', 122, 459),
    panelLetter('D', 641, 460)
  ]
};

const chart = echarts.init(document.getElementById('chart'), null, { renderer: 'svg' });
chart.setOption(option);
</script>
</body>
</html>
